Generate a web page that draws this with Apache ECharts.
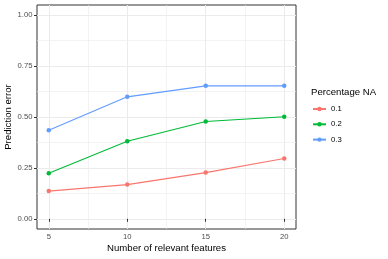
<!DOCTYPE html>
<html>
<head>
<meta charset="utf-8">
<script src="https://cdn.jsdelivr.net/npm/echarts@6/dist/echarts.min.js"></script>
<style>
html,body{margin:0;padding:0;background:#fff;}
#chart{width:388px;height:259px;}
</style>
</head>
<body>
<div id="chart"></div>
<script>
const features = [5, 10, 15, 20];
const groups = ['0.1', '0.2', '0.3'];
const err01 = [0.136, 0.168, 0.227, 0.296];
const err02 = [0.224, 0.381, 0.478, 0.501];
const err03 = [0.435, 0.599, 0.653, 0.653];
const xTicks = [5, 10, 15, 20];
const xMinor = [7.5, 12.5, 17.5];
const yTicks = [0, 0.25, 0.5, 0.75, 1];
const yMinor = [0.125, 0.375, 0.625, 0.875];
const colors = ['#F8766D', '#00BA38', '#619CFF'];
const values = [err01, err02, err03];

const FONT = '"Liberation Sans", Arial, sans-serif';
const chart = echarts.init(document.getElementById('chart'), null, {renderer: 'canvas'});

const series = groups.map((g, i) => ({
  name: g,
  type: 'line',
  xAxisIndex: 0,
  yAxisIndex: 0,
  data: features.map((f, j) => [f, values[i][j]]),
  symbol: 'circle',
  symbolSize: 4.5,
  lineStyle: {color: colors[i], width: 1.1},
  itemStyle: {color: colors[i]},
  animation: false,
  z: 3
}));

chart.setOption({
  animation: false,
  backgroundColor: '#fff',
  title: {
    text: 'Percentage NA',
    left: 311,
    top: 87,
    padding: 0,
    textStyle: {fontFamily: FONT, fontSize: 9.6, fontWeight: 'normal', color: '#000', lineHeight: 11}
  },
  legend: {
    orient: 'vertical',
    left: 312,
    top: 104,
    padding: 0,
    itemWidth: 13,
    itemHeight: 5.5,
    itemGap: 5.3,
    data: groups,
    textStyle: {fontFamily: FONT, fontSize: 7.7, color: '#000', lineHeight: 10}
  },
  grid: {
    left: 37, top: 5, right: 92, bottom: 30,
    outerBoundsMode: 'none',
    show: true, borderColor: '#333333', borderWidth: 1, backgroundColor: '#fff',
    containLabel: false
  },
  xAxis: [{
    type: 'value', min: 4.25, max: 20.75,
    name: 'Number of relevant features', nameLocation: 'middle', nameGap: 14, nameMoveOverlap: false,
    nameTextStyle: {fontFamily: FONT, fontSize: 9.6, color: '#000'},
    axisLine: {show: false},
    axisTick: {show: true, customValues: xTicks, length: 3, lineStyle: {color: '#333333', width: 1}},
    axisLabel: {customValues: xTicks, margin: 4, fontFamily: FONT, fontSize: 7.7, color: '#4D4D4D'},
    splitLine: {show: true, lineStyle: {color: '#EBEBEB', width: 1}},
    z: 1
  }, {
    type: 'value', min: 4.25, max: 20.75, position: 'bottom',
    axisLine: {show: false},
    axisTick: {show: false, customValues: xMinor},
    axisLabel: {show: false, customValues: xMinor},
    splitLine: {show: true, lineStyle: {color: '#EBEBEB', width: 0.6}},
    z: 0
  }],
  yAxis: [{
    type: 'value', min: -0.05, max: 1.05,
    name: 'Prediction error', nameLocation: 'middle', nameGap: 24, nameMoveOverlap: false,
    nameTextStyle: {fontFamily: FONT, fontSize: 9.6, color: '#000'},
    axisLine: {show: false},
    axisTick: {show: true, customValues: yTicks, length: 3, lineStyle: {color: '#333333', width: 1}},
    axisLabel: {customValues: yTicks, margin: 4.5, fontFamily: FONT, fontSize: 7.7, color: '#4D4D4D',
      formatter: v => v.toFixed(2)},
    splitLine: {show: true, lineStyle: {color: '#EBEBEB', width: 1}},
    z: 1
  }, {
    type: 'value', min: -0.05, max: 1.05, position: 'left',
    axisLine: {show: false},
    axisTick: {show: false, customValues: yMinor},
    axisLabel: {show: false, customValues: yMinor},
    splitLine: {show: true, lineStyle: {color: '#EBEBEB', width: 0.6}},
    z: 0
  }],
  series: series
});
</script>
</body>
</html>
